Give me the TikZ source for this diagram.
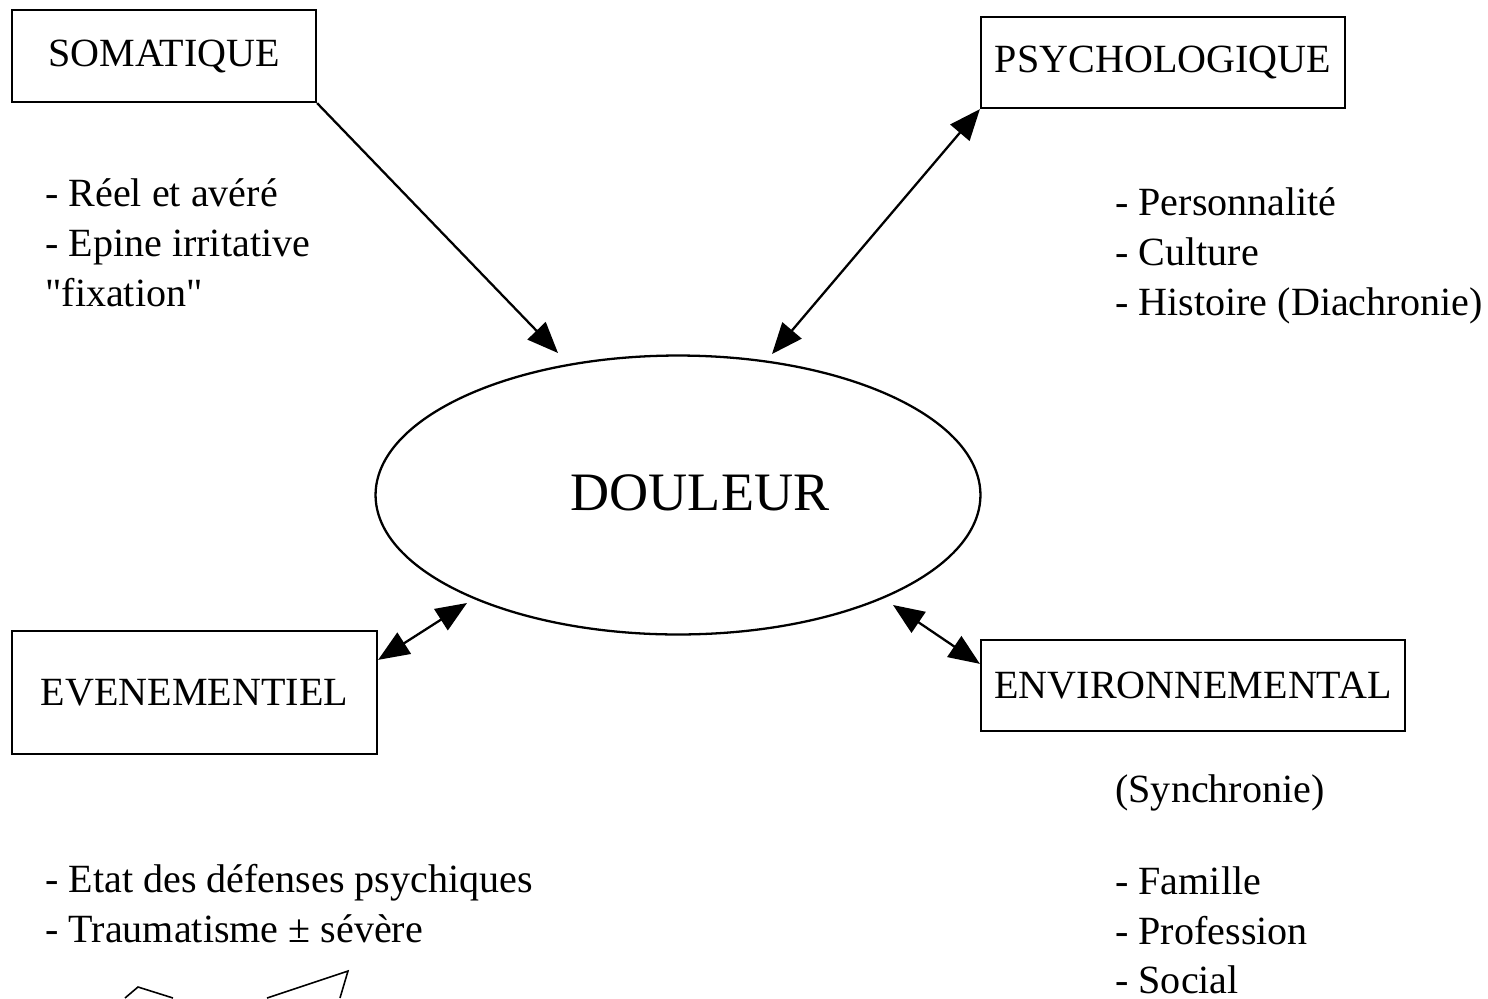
\documentclass[tikz,border=0pt]{standalone}
\usepackage{fontspec}
\setmainfont{Liberation Serif}[Ligatures=TeXOff]
\usetikzlibrary{arrows.meta,shapes.geometric}

\begin{document}
\begin{tikzpicture}[
  x=0.02cm, y=-0.02cm,
  font=\fontsize{22.8}{28.4}\selectfont,
  box/.style={draw, line width=1.3pt, inner sep=0pt, align=center},
  lst/.style={anchor=north west, align=left, inner sep=0pt},
  tip/.style={line width=1.3pt, {Triangle[length=0.62cm, width=0.5cm]}-{Triangle[length=0.62cm, width=0.5cm]}},
  onetip/.style={line width=1.3pt, -{Triangle[length=0.62cm, width=0.5cm]}}]
\useasboundingbox (0,0) rectangle (1488,998);
% boxes
\node[box, minimum width=6.08cm, minimum height=1.84cm] (soma) at (164,56) {SOMATIQUE};
\node[box, minimum width=7.28cm, minimum height=1.82cm] (psy) at (1163,62.5) {PSYCHOLOGIQUE};
\node[box, minimum width=7.3cm, minimum height=2.46cm] (even) at (194.5,692.5) {EVENEMENTIEL};
\node[box, minimum width=8.48cm, minimum height=1.82cm] (env) at (1193,685.5) {ENVIRONNEMENTAL};
\node[draw, ellipse, line width=1.3pt, minimum width=12.1cm, minimum height=5.58cm] (doul) at (678,495) {};
\node[font=\fontsize{30.8}{36}\selectfont] (dtxt) at (700,493) {DOULEUR};
% texts
\node[lst] (tsoma) at (45,178) {- Réel et avéré\\- Epine irritative\\"fixation"};
\node[lst] (tpsy) at (1115,187) {- Personnalité\\- Culture\\- Histoire (Diachronie)};
\node[lst] (teven) at (45,864) {- Etat des défenses psychiques\\- Traumatisme ± sévère};
\node[lst] (tsync) at (1115,774) {(Synchronie)};
\node[lst] (tenv) at (1115,866) {- Famille\\- Profession\\- Social};
% arrow ends
\coordinate (a1) at (558,353);
\coordinate (a2) at (772,354);
\coordinate (a3) at (467,603);
\coordinate (a4) at (893,605);
\draw[onetip] (soma.south east) -- (a1);
\draw[tip] (a2) -- (psy.south west);
\draw[tip] ([yshift=-0.6cm]even.north east) -- (a3);
\draw[tip] (a4) -- ([yshift=-0.5cm]env.north west);
% cut shape at the bottom
\draw[line width=0.9pt] (125,998) -- (138,987) -- (173,998);
\draw[line width=0.9pt] (267,998) -- (348,971) -- (340,998);
\end{tikzpicture}
\end{document}
